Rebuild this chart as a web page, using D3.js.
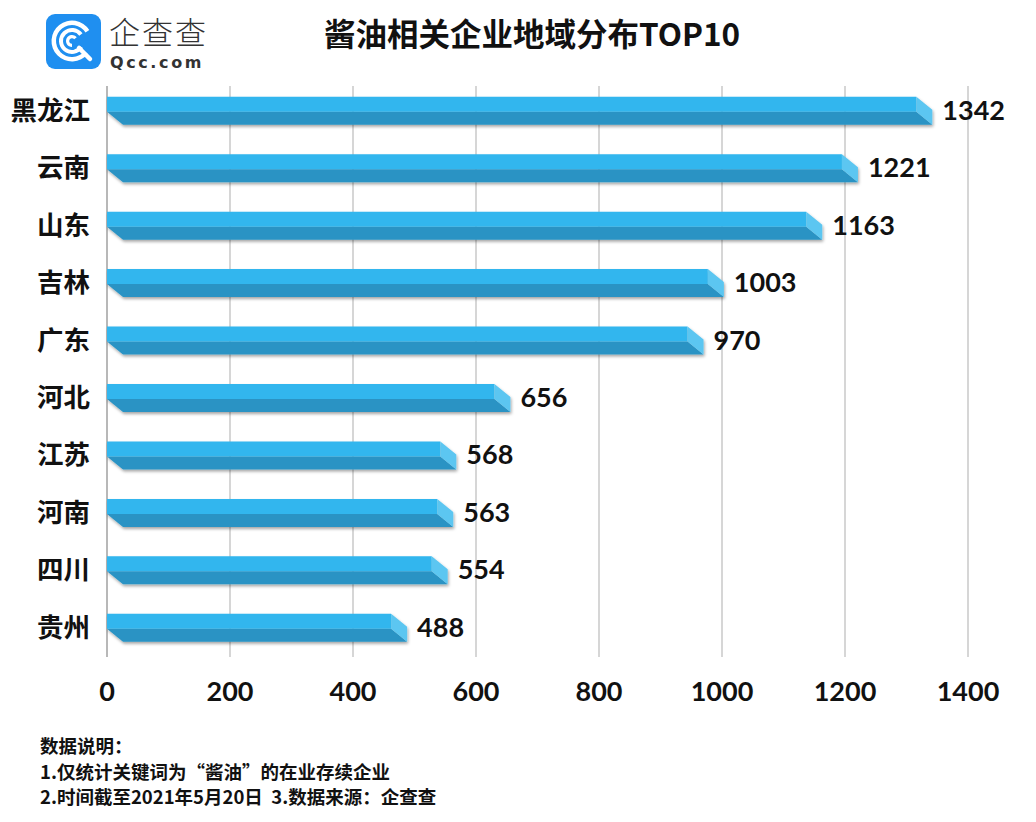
<!DOCTYPE html>
<html><head><meta charset="utf-8">
<script src="https://cdn.jsdelivr.net/npm/d3@7/dist/d3.min.js"></script>
<style>
body{margin:0;background:#fff;}
svg{display:block;}
text{white-space:pre;}
</style></head><body>
<script>
const categories = ["黑龙江","云南","山东","吉林","广东","河北","江苏","河南","四川","贵州"];
const values = [1342,1221,1163,1003,970,656,568,563,554,488];
const xTicks = [0,200,400,600,800,1000,1200,1400];
const title = "酱油相关企业地域分布TOP10";
const notes = ["数据说明：","1.仅统计关键词为“酱油”的在业存续企业","2.时间截至2021年5月20日  3.数据来源：企查查"];

const W=1036,H=822;
const svg=d3.select("body").append("svg").attr("width",W).attr("height",H);
const CJK="'Noto Sans CJK SC','Noto Sans',sans-serif";
const NUM="Lato,'Noto Sans',sans-serif";

const defs=svg.append("defs");
const f=defs.append("filter").attr("id","sh").attr("x","-5%").attr("y","-50%").attr("width","110%").attr("height","200%");
f.append("feDropShadow").attr("dx",1).attr("dy",2).attr("stdDeviation",1.5).attr("flood-color","#000").attr("flood-opacity",0.35);

const x=d3.scaleLinear().domain([0,1400]).range([107,968]);
const y=d3.scaleBand().domain(categories).range([82,656.5]).padding(0);

// grid
svg.append("g").selectAll("line").data(xTicks).join("line")
  .attr("x1",d=>x(d)).attr("x2",d=>x(d)).attr("y1",86).attr("y2",657)
  .attr("stroke",d=>d===0?"#b8b8b8":"#d6d6d6").attr("stroke-width",2);

// axis labels
svg.append("g").selectAll("text").data(xTicks).join("text")
  .attr("x",d=>x(d)).attr("y",701).attr("text-anchor","middle")
  .attr("font-family",NUM).attr("font-weight","bold").attr("font-size",27).attr("fill","#111")
  .text(d=>d);

// bars
const bh=28, topH=15, off=16, dy=13;
const g=svg.append("g").selectAll("g").data(categories).join("g");
g.each(function(c,i){
  const s=d3.select(this);
  const x0=x(0), xe=x(values[i]), y0=y(c)+y.bandwidth()/2-bh/2;
  const grp=s.append("g").attr("filter","url(#sh)");
  grp.append("path").attr("d",`M${x0},${y0+topH}L${xe-off},${y0+topH}L${xe},${y0+bh}L${x0+off},${y0+bh}Z`).attr("fill","#2993c4");
  grp.append("path").attr("d",`M${x0},${y0}L${xe-off},${y0}L${xe-off},${y0+topH}L${x0},${y0+topH}Z`).attr("fill","#30b6ee");
  grp.append("path").attr("d",`M${xe-off},${y0}L${xe},${y0+dy}L${xe},${y0+bh}L${xe-off},${y0+topH}Z`).attr("fill","#5cc6f1");
  s.append("text").attr("x",xe+10).attr("y",y0+bh/2+9).attr("font-family",NUM).attr("font-weight","bold")
   .attr("font-size",27).attr("fill","#111").text(values[i]);
  s.append("text").attr("x",90).attr("y",y0+bh/2+9).attr("text-anchor","end").attr("font-family",CJK)
   .attr("font-weight","bold").attr("font-size",26.5).attr("fill","#111").text(c);
});

// title
svg.append("text").attr("x",532).attr("y",46).attr("text-anchor","middle").attr("font-family",CJK)
  .attr("font-weight","bold").attr("font-size",31.5).attr("fill","#111").text(title);

// notes
svg.append("g").selectAll("text").data(notes).join("text")
  .attr("x",40).attr("y",(d,i)=>753+i*25.5).attr("font-family",CJK).attr("font-weight","bold")
  .attr("font-size",18.5).attr("fill","#111").text(d=>d);

// logo
const lg=svg.append("g");
lg.append("rect").attr("x",46).attr("y",14).attr("width",55).attr("height",55).attr("rx",9).attr("fill","#1f8ff0");
const cx=72,cy=41;
const arc=d3.arc();
lg.append("path").attr("transform",`translate(${cx},${cy})`)
  .attr("d",arc({innerRadius:16,outerRadius:20.5,startAngle:Math.PI*0.72,endAngle:Math.PI*2.32})).attr("fill","#fff");
lg.append("path").attr("transform",`translate(${cx},${cy})`)
  .attr("d",arc({innerRadius:9,outerRadius:13,startAngle:Math.PI*0.68,endAngle:Math.PI*2.3})).attr("fill","#fff");
lg.append("path").attr("transform",`translate(${cx},${cy})`)
  .attr("d",arc({innerRadius:2.8,outerRadius:6,startAngle:Math.PI*1.0,endAngle:Math.PI*2.1+0.6})).attr("fill","#fff");
lg.append("line").attr("x1",cx+7).attr("y1",cy+7).attr("x2",cx+18).attr("y2",cy+18).attr("stroke","#fff").attr("stroke-width",4.5).attr("stroke-linecap","round");
lg.append("text").attr("x",109).attr("y",44).attr("font-family",CJK).attr("font-weight",300).attr("font-size",31).attr("fill","#333").attr("letter-spacing",2).text("企查查");
lg.append("text").attr("x",110).attr("y",68).attr("font-family","'DejaVu Sans',sans-serif").attr("font-weight","bold").attr("font-size",16).attr("fill","#333").attr("letter-spacing",2.6).text("Qcc.com");
</script>
</body></html>
